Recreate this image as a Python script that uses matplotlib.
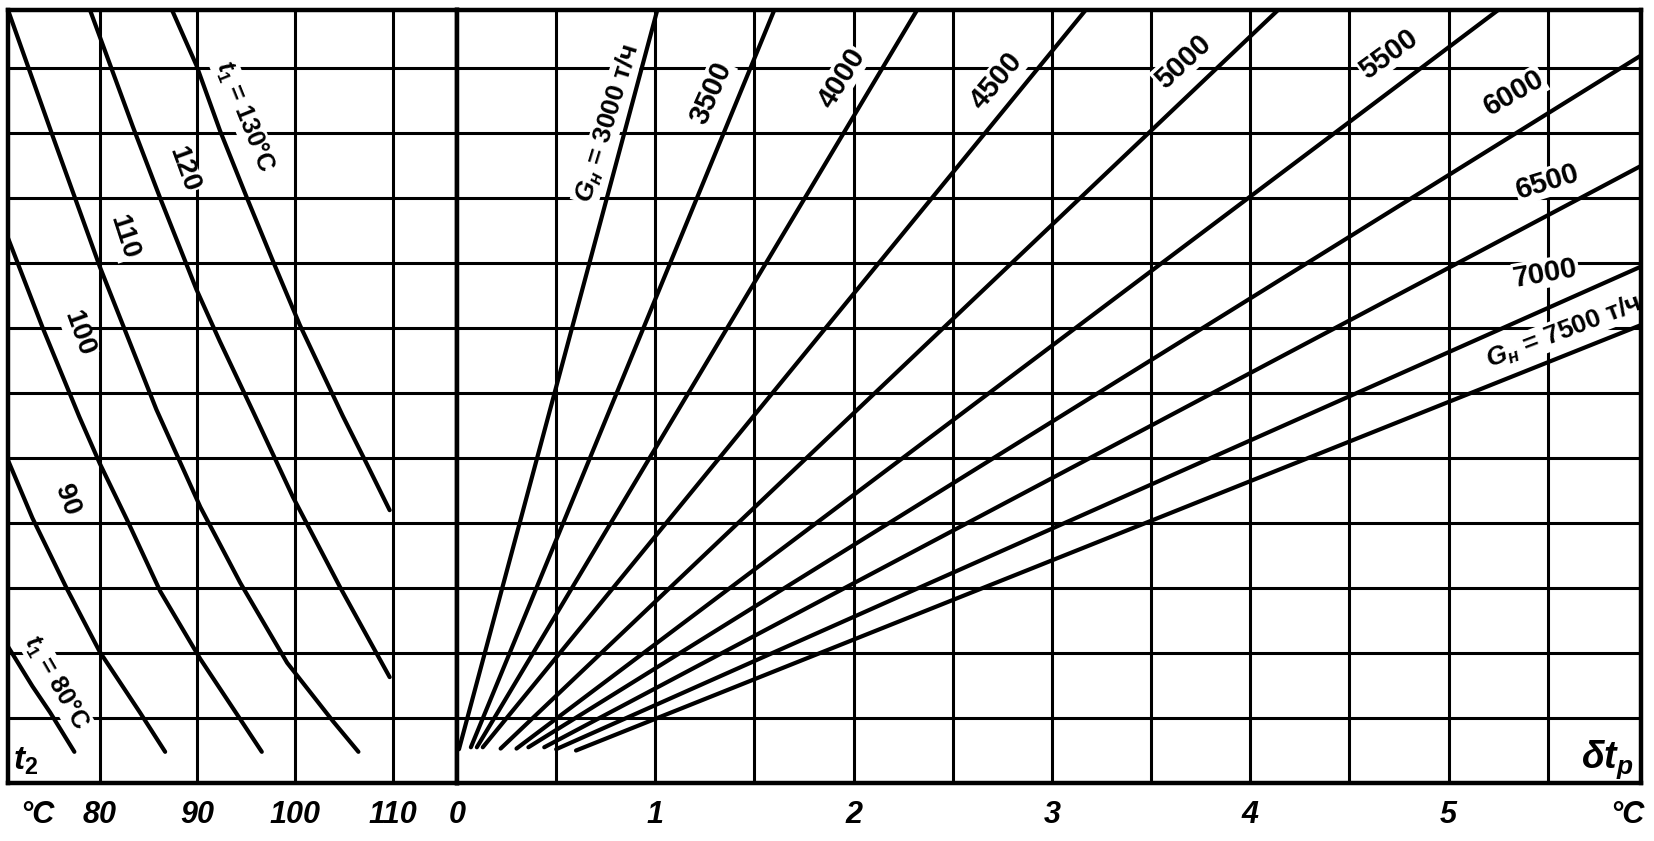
import numpy as np
import matplotlib
matplotlib.use("Agg")
import matplotlib.pyplot as plt
from matplotlib.ticker import MultipleLocator
from matplotlib.transforms import blended_transform_factory

# ---------------- data ----------------
# left part: curves t1 = const, coordinates (t2 [°C], common vertical scale)
t1_values = [80, 90, 100, 110, 120, 130]
t2_80 = [70.6, 73.1, 74.9, 77.4]
y_80 = [2.10, 1.49, 1.09, 0.48]
t2_90 = [70.6, 73.1, 76.6, 80.0, 84.1, 86.7]
y_90 = [4.97, 4.08, 3.00, 2.02, 1.09, 0.48]
t2_100 = [70.6, 74.2, 77.9, 80.0, 82.8, 86.2, 90.3, 94.4, 96.6]
y_100 = [8.39, 6.99, 5.64, 4.92, 4.05, 2.95, 1.91, 0.98, 0.48]
t2_110 = [70.6, 75.2, 80.0, 85.8, 90.3, 94.4, 99.2, 103.9, 106.5]
y_110 = [11.9, 9.95, 7.95, 5.75, 4.25, 3.08, 1.85, 0.95, 0.48]
t2_120 = [79.0, 83.4, 86.2, 89.9, 92.3, 95.7, 99.8, 104.6, 109.7]
y_120 = [11.9, 10.1, 9.0, 7.6, 6.8, 5.72, 4.4, 3.02, 1.63]
t2_130 = [87.4, 89.9, 92.3, 95.1, 97.7, 100.5, 104.9, 107.4, 109.7]
y_130 = [11.9, 11.05, 10.05, 9.0, 8.05, 7.05, 5.65, 4.9, 4.2]

# right part: straight lines G_н = const (δt_р [°C], common vertical scale)
G_values = [3000, 3500, 4000, 4500, 5000, 5500, 6000, 6500, 7000, 7500]
g_start_dt = [0.01, 0.07, 0.10, 0.13, 0.22, 0.30, 0.36, 0.44, 0.50, 0.60]
g_start_y = [0.52, 0.55, 0.55, 0.55, 0.53, 0.53, 0.55, 0.55, 0.52, 0.50]
g_end_dt = [1.01, 1.60, 2.32, 3.17, 4.14, 5.25, 5.97, 5.97, 5.97, 5.97]
g_end_y = [11.9, 11.9, 11.9, 11.9, 11.9, 11.9, 11.2, 9.5, 7.95, 7.05]

t2_ticks = [80, 90, 100, 110]
dt_ticks = [0, 1, 2, 3, 4, 5]

# ---------------- style / layout ----------------
plt.rcParams['font.family'] = ['Liberation Sans', 'DejaVu Sans']
plt.rcParams['mathtext.fontset'] = 'custom'
plt.rcParams['mathtext.it'] = 'Liberation Sans:italic:bold'
plt.rcParams['mathtext.rm'] = 'Liberation Sans:bold'
plt.rcParams['mathtext.bf'] = 'Liberation Sans:bold'

W, H = 1654, 841
fig = plt.figure(figsize=(W / 100, H / 100), dpi=100)
axL = fig.add_axes([8 / W, 58 / H, 449 / W, 773 / H])
axR = fig.add_axes([457 / W, 58 / H, 1184 / W, 773 / H])

GRID_LW = 2.2
CURVE_LW = 3.0
for ax in (axL, axR):
    ax.set_ylim(0, 11.9)
    ax.yaxis.set_major_locator(MultipleLocator(1))
    ax.set_yticklabels([])
    ax.tick_params(which='both', length=0)
    ax.tick_params(axis='x', pad=12)
    for s in ax.spines.values():
        s.set_linewidth(3.2)
        s.set_color('black')
        s.set_zorder(4)
    ax.grid(True, which='both', color='black', lw=GRID_LW)
    ax.set_axisbelow(True)

axL.set_xlim(70.6, 116.6)
axL.set_xticks(t2_ticks)
axL.set_xticklabels([str(v) for v in t2_ticks])
axR.set_xlim(0, 5.97)
axR.set_xticks(dt_ticks)
axR.set_xticklabels([str(v) for v in dt_ticks])
axR.xaxis.set_minor_locator(MultipleLocator(0.5))

for ax in (axL, axR):
    for lab in ax.get_xticklabels():
        lab.set_fontsize(22)
        lab.set_fontstyle('italic')
        lab.set_fontweight('bold')

# left curves
curves = [(t2_80, y_80), (t2_90, y_90), (t2_100, y_100),
          (t2_110, y_110), (t2_120, y_120), (t2_130, y_130)]
for xs, ys in curves:
    axL.plot(xs, ys, color='black', lw=CURVE_LW, solid_capstyle='round', zorder=3)

# right lines
for i in range(len(G_values)):
    axR.plot([g_start_dt[i], g_end_dt[i]], [g_start_y[i], g_end_y[i]],
             color='black', lw=CURVE_LW, solid_capstyle='round', zorder=3)

# ---------------- labels ----------------
lab_kw = dict(color='black', fontweight='bold', ha='center', va='center',
              rotation_mode='anchor', zorder=2.5,
              bbox=dict(facecolor='white', edgecolor='none', pad=0.6))

# left curve labels: (t2, y, rotation, size)
t1_label_pos = [(75.5, 1.55, -60, 18), (76.6, 4.36, -70, 20), (77.8, 6.92, -70, 20),
                (82.5, 8.40, -72, 20), (88.6, 9.45, -70, 20), (94.9, 10.25, -68, 18)]
t1_texts = ['$t_1$ = 80°C', '90', '100', '110', '120', '$t_1$ = 130°C']
for (x, y, r, fs), s in zip(t1_label_pos, t1_texts):
    axL.text(x, y, s, rotation=r, fontsize=fs, **lab_kw)

# right line labels: (δt, y, rotation, size)
g_label_pos = [(0.76, 10.15, 73, 19), (1.28, 10.62, 66, 21), (1.94, 10.85, 58, 21),
               (2.72, 10.80, 50, 21), (3.66, 11.10, 43, 21), (4.70, 11.22, 36, 21),
               (5.33, 10.62, 30, 21), (5.50, 9.25, 17, 21), (5.49, 7.85, 10, 21),
               (5.58, 6.95, 21, 19)]
g_texts = ['$G_н$ = 3000 т/ч'] + [str(g) for g in G_values[1:-1]] + ['$G_н$ = 7500 т/ч']
for (x, y, r, fs), s in zip(g_label_pos, g_texts):
    axR.text(x, y, s, rotation=r, fontsize=fs, **lab_kw)

# axis names inside the frame
axL.text(72.4, 0.33, '$t_2$', fontsize=24, ha='center', va='center', zorder=5)
axR.text(5.80, 0.36, r'$\delta t_р$', fontsize=27, ha='center', va='center', zorder=5)

# unit labels under the axes
trL = blended_transform_factory(axL.transData, axL.transAxes)
trR = blended_transform_factory(axR.transData, axR.transAxes)
unit_kw = dict(fontsize=22, fontstyle='italic', fontweight='bold', ha='center', va='top')
axL.text(73.6, -0.022, '°C', transform=trL, **unit_kw)
axR.text(5.90, -0.022, '°C', transform=trR, **unit_kw)

fig.savefig('out.png', dpi=100)
